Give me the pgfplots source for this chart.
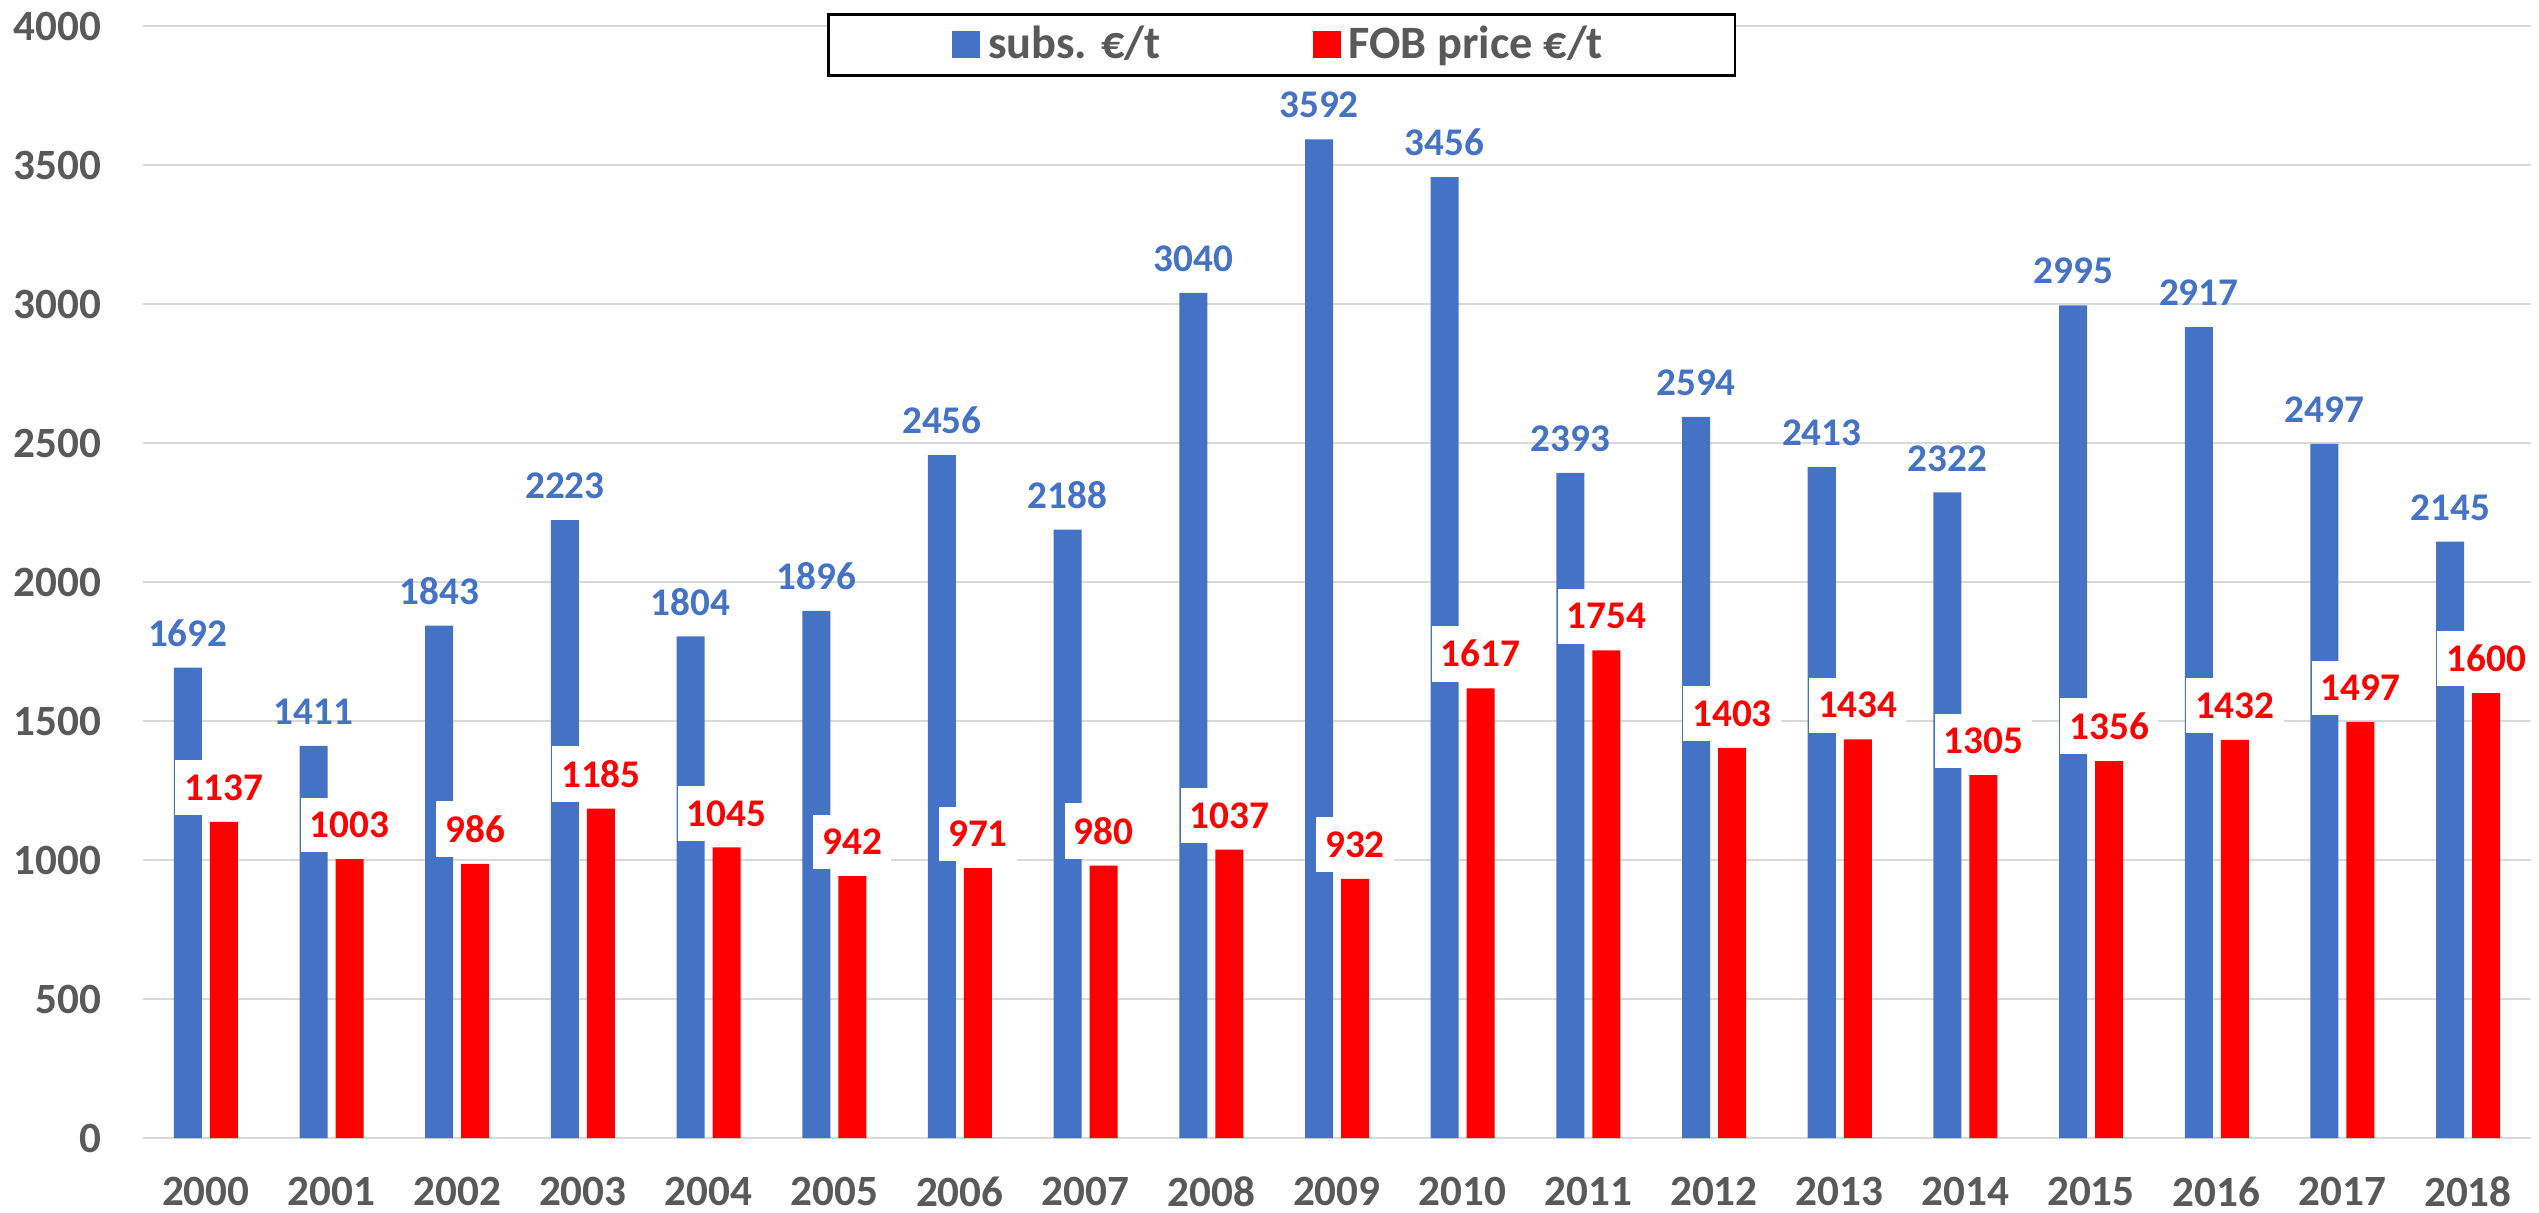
\documentclass[border=0pt]{standalone}
\usepackage{pgfplots}
\pgfplotsset{compat=1.18}
\usepackage{fontspec}
\setmainfont{Carlito}
\definecolor{cblue}{HTML}{4472C4}
\definecolor{cred}{HTML}{FF0000}
\definecolor{cgrey}{HTML}{595959}
\definecolor{cgrid}{HTML}{D9D9D9}
\begin{document}
\begin{tikzpicture}
\begin{axis}[
  at={(0,0)}, anchor=south west,
  scale only axis,
  width=597pt, height=278pt,
  xmin=1999.5, xmax=2018.5,
  ymin=0, ymax=4000,
  ytick={0,500,...,4000},
  xtick={2000,...,2018},
  /pgf/number format/1000 sep={},
  /pgf/number format/assume math mode=true,
  axis line style={draw=none},
  tick style={draw=none},
  major tick length=0pt,
  ymajorgrids,
  grid style={color=cgrid, line width=0.6pt},
  ticklabel style={font=\fontsize{10.8}{12}\selectfont\bfseries, text=cgrey},
  yticklabel style={inner xsep=0pt, anchor=east, xshift=-10.25pt},
  xticklabel style={inner ysep=0pt, anchor=north, yshift=-9.5pt},
  ybar,
  bar width=7pt,
  clip=false,
  nodes near coords,
  nodes near coords style={font=\fontsize{9.8}{10}\selectfont\bfseries, anchor=south, yshift=1.5pt, inner xsep=2.25pt, inner ysep=3.6pt},
  legend columns=2,
  legend style={at={(rel axis cs:0.4768,1.0117)}, anchor=north, draw=black, line width=0.7pt,
    font=\fontsize{11.6}{13}\selectfont\bfseries, text=cgrey, inner xsep=31pt, inner ysep=0.6pt,
    nodes={inner ysep=2.2pt},
    /tikz/every even column/.append style={column sep=36pt}},
  legend image code/.code={\fill[#1,draw=none] (0pt,-3.4pt) rectangle (7pt,3.4pt);},
]
\addplot[fill=cblue, draw=none, bar shift=-4.5pt,
  every node near coord/.append style={text=cblue}]
  coordinates {(2000,1692) (2001,1411) (2002,1843) (2003,2223) (2004,1804) (2005,1896) (2006,2456) (2007,2188) (2008,3040) (2009,3592) (2010,3456) (2011,2393) (2012,2594) (2013,2413) (2014,2322) (2015,2995) (2016,2917) (2017,2497) (2018,2145)};
\addlegendentry{subs. €/t}
\addplot[fill=cred, draw=none, bar shift=4.5pt,
  every node near coord/.append style={text=cred, fill=white}]
  coordinates {(2000,1137) (2001,1003) (2002,986) (2003,1185) (2004,1045) (2005,942) (2006,971) (2007,980) (2008,1037) (2009,932) (2010,1617) (2011,1754) (2012,1403) (2013,1434) (2014,1305) (2015,1356) (2016,1432) (2017,1497) (2018,1600)};
\addlegendentry{FOB price €/t}
\end{axis}
\pgfresetboundingbox
\path (-35.75pt,-18.5pt) rectangle (599pt,284.5pt);
\end{tikzpicture}
\end{document}
